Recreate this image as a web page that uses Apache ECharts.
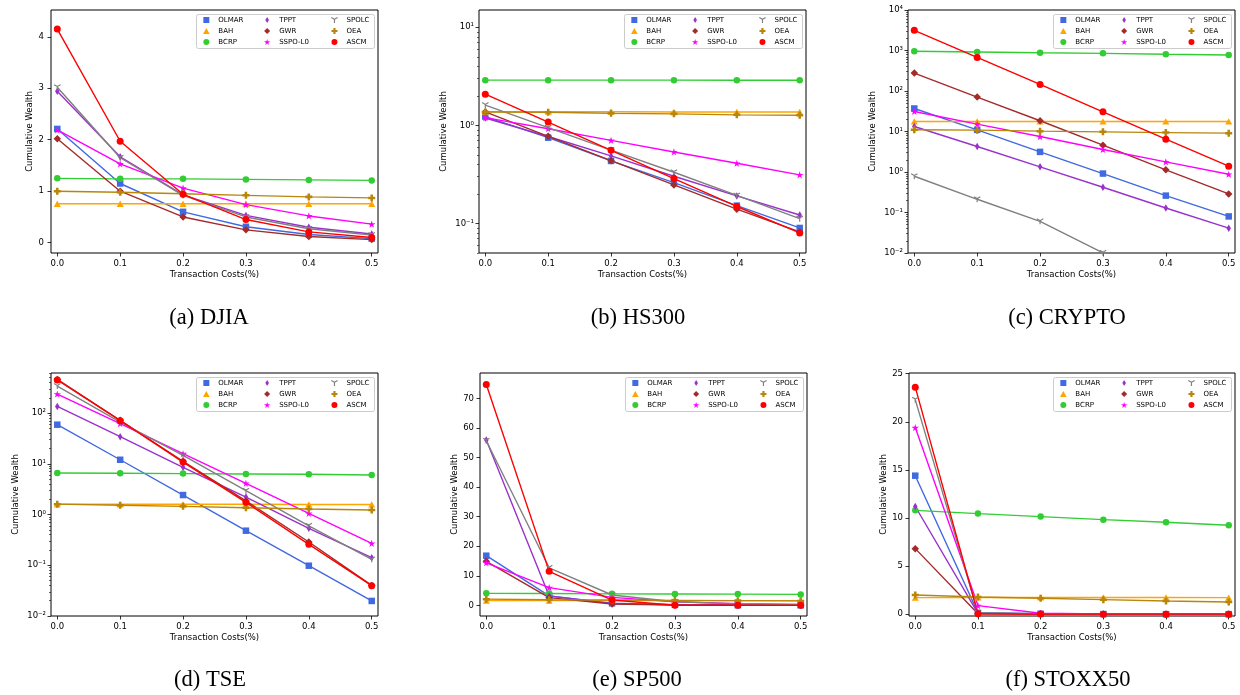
<!DOCTYPE html>
<html>
<head>
<meta charset="utf-8">
<script src="https://cdn.jsdelivr.net/npm/echarts@6/dist/echarts.min.js"></script>
<style>
  html, body { margin: 0; padding: 0; background: #fff; }
  #chart { width: 1240px; height: 695px; }
</style>
</head>
<body>
<div id="chart"></div>
<script>
// Transaction cost levels (%) on the x axis
const costs = [0, 0.1, 0.2, 0.3, 0.4, 0.5];
const methods = ['OLMAR', 'BAH', 'BCRP', 'TPPT', 'GWR', 'SSPO-L0', 'SPOLC', 'OEA', 'ASCM'];
const captions = ['(a) DJIA', '(b) HS300', '(c) CRYPTO', '(d) TSE', '(e) SP500', '(f) STOXX50'];
const xTicks = [0, 0.1, 0.2, 0.3, 0.4, 0.5];

// Cumulative wealth, one row per method (same order as `methods`)
const djia = [
  [2.21, 1.15, 0.60, 0.31, 0.16, 0.08],
  [0.757, 0.757, 0.757, 0.757, 0.757, 0.757],
  [1.25, 1.24, 1.24, 1.23, 1.22, 1.21],
  [2.94, 1.67, 0.93, 0.53, 0.30, 0.17],
  [2.02, 1.00, 0.50, 0.25, 0.12, 0.06],
  [2.19, 1.53, 1.06, 0.74, 0.52, 0.36],
  [3.02, 1.65, 0.92, 0.50, 0.27, 0.15],
  [1.00, 0.98, 0.95, 0.92, 0.89, 0.87],
  [4.15, 1.97, 0.94, 0.45, 0.21, 0.10]
];
const hs300 = [
  [1.23, 0.749, 0.434, 0.261, 0.152, 0.090],
  [1.38, 1.38, 1.38, 1.37, 1.37, 1.37],
  [2.89, 2.89, 2.89, 2.89, 2.88, 2.88],
  [1.19, 0.77, 0.488, 0.303, 0.191, 0.122],
  [1.37, 0.773, 0.437, 0.247, 0.14, 0.082],
  [1.20, 0.925, 0.704, 0.536, 0.411, 0.313],
  [1.61, 0.947, 0.56, 0.333, 0.193, 0.112],
  [1.37, 1.36, 1.33, 1.31, 1.28, 1.27],
  [2.08, 1.08, 0.557, 0.287, 0.149, 0.080]
];
const crypto = [
  [37, 11, 3.14, 0.915, 0.261, 0.08],
  [17.7, 17.7, 17.7, 17.7, 17.7, 17.7],
  [960, 920, 880, 850, 810, 775],
  [13.3, 4.26, 1.34, 0.42, 0.129, 0.041],
  [277, 70.6, 18.4, 4.59, 1.13, 0.287],
  [31.2, 15.2, 7.5, 3.59, 1.78, 0.88],
  [0.786, 0.212, 0.0606, 0.0101, 0.0017, 0.0003],
  [11, 10.8, 10.2, 9.8, 9.4, 9.1],
  [3150, 676, 145, 30.6, 6.46, 1.39]
];
const tse = [
  [58.9, 12.0, 2.42, 0.48, 0.098, 0.0198],
  [1.59, 1.59, 1.59, 1.59, 1.58, 1.58],
  [6.58, 6.5, 6.4, 6.3, 6.2, 6.0],
  [135, 34.2, 8.5, 2.21, 0.534, 0.141],
  [460, 72, 11.2, 1.85, 0.287, 0.040],
  [237, 61.6, 15.8, 4.11, 1.05, 0.27],
  [340, 66.5, 14.6, 2.95, 0.60, 0.131],
  [1.60, 1.52, 1.45, 1.36, 1.28, 1.23],
  [447, 70.6, 10.8, 1.74, 0.258, 0.0396]
];
const sp500 = [
  [16.8, 3.2, 0.7, 0.2, 0.04, 0.01],
  [1.6, 1.6, 1.6, 1.6, 1.6, 1.6],
  [4.06, 4.0, 3.9, 3.85, 3.8, 3.7],
  [55.9, 3.2, 0.6, 0.2, 0.1, 0.05],
  [14.9, 2.6, 0.45, 0.1, 0.05, 0.02],
  [14.4, 6.0, 2.7, 1.2, 0.6, 0.3],
  [55.7, 12.7, 3.5, 1.2, 0.5, 0.2],
  [2.1, 1.9, 1.8, 1.7, 1.6, 1.5],
  [74.7, 11.5, 1.8, 0.05, 0.03, 0.02]
];
const stoxx50 = [
  [14.4, 0.15, 0.05, 0.02, 0.01, 0.01],
  [1.73, 1.75, 1.75, 1.75, 1.74, 1.73],
  [10.8, 10.46, 10.15, 9.83, 9.56, 9.25],
  [11.2, 0.1, 0.03, 0.01, 0.01, 0.01],
  [6.82, 0.05, 0.02, 0.01, 0.01, 0.01],
  [19.4, 0.9, 0.1, 0.04, 0.02, 0.01],
  [22.3, 0.15, 0.05, 0.02, 0.01, 0.01],
  [2.0, 1.8, 1.66, 1.52, 1.38, 1.28],
  [23.6, 0.05, 0.02, 0.01, 0.01, 0.01]
];
const datasets = [djia, hs300, crypto, tse, sp500, stoxx50];

// y tick values per panel
const djiaTicks = [0, 1, 2, 3, 4];
const hs300Ticks = [0.1, 1, 10];
const cryptoTicks = [0.01, 0.1, 1, 10, 100, 1000, 10000];
const tseTicks = [0.01, 0.1, 1, 10, 100];
const sp500Ticks = [0, 10, 20, 30, 40, 50, 60, 70];
const stoxxTicks = [0, 5, 10, 15, 20, 25];

// ---- styling ----
const colors = ['#4169E1', '#FFA500', '#32CD32', '#9932CC', '#A52A2A', '#FF00FF', '#808080', '#B8860B', '#FF0000'];
const sym = {
  square: 'path://M-5,-5L5,-5L5,5L-5,5Z',
  triangle: 'path://M0,-5L5,4L-5,4Z',
  circle: 'path://M-5,0A5,5,0,1,0,5,0A5,5,0,1,0,-5,0Z',
  thinDiamond: 'path://M0,-5L3,0L0,5L-3,0Z',
  diamond: 'path://M0,-5L5,0L0,5L-5,0Z',
  star: 'path://M0,-5L1.123,-1.545L4.755,-1.545L1.816,0.59L2.939,4.045L0,1.91L-2.939,4.045L-1.816,0.59L-4.755,-1.545L-1.123,-1.545Z',
  triDown: 'path://M-0.8,0L0.8,0L0.8,5L-0.8,5Z M-0.4,0.693L-4.73,-1.807L-3.93,-3.193L0.4,-0.693Z M-0.4,-0.693L3.93,-3.193L4.73,-1.807L0.4,0.693Z',
  plus: 'path://M-1.8,-5L1.8,-5L1.8,-1.8L5,-1.8L5,1.8L1.8,1.8L1.8,5L-1.8,5L-1.8,1.8L-5,1.8L-5,-1.8L-1.8,-1.8Z'
};
const symbols = [sym.square, sym.triangle, sym.circle, sym.thinDiamond, sym.diamond, sym.star, sym.triDown, sym.plus, sym.circle];
const symbolSizes = [6.5, 7, 6.5, 7.5, 7.5, 7.5, 7, 7, 7];

const FONT = 'DejaVu Sans';
const TICK_FONT = 8.5;

// panel layout (plot areas in px)
const panels = [
  { left: 51,  top: 10,  width: 327, height: 243, type: 'value', min: -0.2,  max: 4.52,  ticks: djiaTicks,   nameGap: 16, labelMargin: 7 },
  { left: 479, top: 10,  width: 327, height: 243, type: 'log',   min: 0.05,  max: 15,    ticks: hs300Ticks,  nameGap: 31, labelMargin: 5 },
  { left: 908, top: 10,  width: 327, height: 243, type: 'log',   min: 0.01,  max: 10000, ticks: cryptoTicks, nameGap: 31, labelMargin: 5 },
  { left: 51,  top: 373, width: 327, height: 243, type: 'log',   min: 0.01,  max: 615,   ticks: tseTicks,    nameGap: 31, labelMargin: 5 },
  { left: 480, top: 373, width: 327, height: 243, type: 'value', min: -3.6,  max: 78.6,  ticks: sp500Ticks,  nameGap: 21, labelMargin: 6 },
  { left: 909, top: 373, width: 326, height: 243, type: 'value', min: -0.18, max: 25.07, ticks: stoxxTicks,  nameGap: 21, labelMargin: 6 }
];
const captionPos = [[209, 318], [638, 318], [1067, 318], [210, 680], [637, 680], [1068, 680]];

const SUP = { '0': '\u2070', '1': '\u00B9', '2': '\u00B2', '3': '\u00B3', '4': '\u2074', '5': '\u2075', '-': '\u207B' };
function powLabel(v) {
  const e = String(Math.round(Math.log10(v)));
  return '10' + e.split('').map(c => SUP[c]).join('');
}
function minorTicks(min, max) {
  const out = [];
  for (let e = Math.floor(Math.log10(min)); e <= Math.ceil(Math.log10(max)); e++) {
    for (let k = 2; k <= 9; k++) {
      const v = k * Math.pow(10, e);
      if (v >= min && v <= max) out.push(v);
    }
  }
  return out;
}

const grid = [], xAxis = [], yAxis = [], series = [], legend = [], graphic = [];

panels.forEach((p, i) => {
  grid.push({ left: p.left, top: p.top, width: p.width, height: p.height, show: true,
    borderColor: '#000', borderWidth: 1, backgroundColor: 'transparent' });

  xAxis.push({
    type: 'value', gridIndex: i, min: -0.01, max: 0.51, position: 'bottom',
    name: 'Transaction Costs(%)', nameLocation: 'middle', nameGap: 17,
    nameTextStyle: { fontFamily: FONT, fontSize: TICK_FONT, color: '#000' },
    axisLine: { show: false, onZero: false },
    axisTick: { show: true, length: 3.5, inside: false, customValues: xTicks, lineStyle: { color: '#000', width: 0.8 } },
    axisLabel: { customValues: xTicks, formatter: v => v.toFixed(1), fontFamily: FONT, fontSize: TICK_FONT, color: '#000', margin: 6 },
    splitLine: { show: false }
  });

  const mainY = yAxis.length;
  yAxis.push({
    type: p.type, gridIndex: i, min: p.min, max: p.max, position: 'left',
    name: 'Cumulative Wealth', nameLocation: 'middle', nameGap: p.nameGap,
    nameTextStyle: { fontFamily: FONT, fontSize: TICK_FONT, color: '#000' },
    axisLine: { show: false, onZero: false },
    axisTick: { show: true, length: 3.5, customValues: p.ticks, lineStyle: { color: '#000', width: 0.8 } },
    axisLabel: { customValues: p.ticks, formatter: p.type === 'log' ? powLabel : (v => String(v)),
      fontFamily: FONT, fontSize: TICK_FONT, color: '#000', margin: p.labelMargin },
    splitLine: { show: false }
  });
  if (p.type === 'log') {
    // second axis carrying only the minor ticks of the log scale
    yAxis.push({
      type: 'log', gridIndex: i, min: p.min, max: p.max, position: 'left', offset: 0,
      axisLine: { show: false, onZero: false },
      axisTick: { show: true, length: 2, customValues: minorTicks(p.min, p.max), lineStyle: { color: '#000', width: 0.6 } },
      axisLabel: { show: false },
      splitLine: { show: false }
    });
  }

  const data = datasets[i];
  methods.forEach((m, k) => {
    series.push({
      type: 'line', name: m, xAxisIndex: i, yAxisIndex: mainY,
      data: costs.map((c, j) => [c, data[k][j]]),
      symbol: symbols[k], symbolSize: symbolSizes[k], symbolKeepAspect: true, showSymbol: true,
      color: colors[k],
      lineStyle: { color: colors[k], width: 1.4 },
      itemStyle: { color: colors[k] },
      clip: true, silent: true, animation: false,
      emphasis: { disabled: true }
    });
  });

  // legend: three columns of three entries inside a light frame
  const boxLeft = p.left + p.width - 182, boxTop = p.top + 4;
  graphic.push({
    type: 'rect', left: boxLeft, top: boxTop, z: 5, silent: true,
    shape: { width: 178, height: 34, r: 2 },
    style: { fill: 'rgba(255,255,255,0.8)', stroke: '#cccccc', lineWidth: 1 }
  });
  [10, 71, 138].forEach((cx, col) => {
    legend.push({
      orient: 'vertical', left: boxLeft + cx - 3, top: boxTop + 2, padding: 0,
      itemWidth: 14, itemHeight: 6, itemGap: 3, selectedMode: false, z: 6,
      textStyle: { fontFamily: FONT, fontSize: 7, color: '#000', lineHeight: 8 },
      data: methods.slice(col * 3, col * 3 + 3).map((m, r) => ({ name: m, icon: symbols[col * 3 + r] }))
    });
  });

  graphic.push({
    type: 'text', x: captionPos[i][0], y: captionPos[i][1], silent: true,
    style: { text: captions[i], fontFamily: 'Liberation Serif', fontSize: 22.5, fill: '#000',
      textAlign: 'center', textVerticalAlign: 'middle' }
  });
});

const chart = echarts.init(document.getElementById('chart'), null, { renderer: 'canvas' });
chart.setOption({
  backgroundColor: '#fff',
  animation: false,
  grid, xAxis, yAxis, series, legend, graphic
});
</script>
</body>
</html>
